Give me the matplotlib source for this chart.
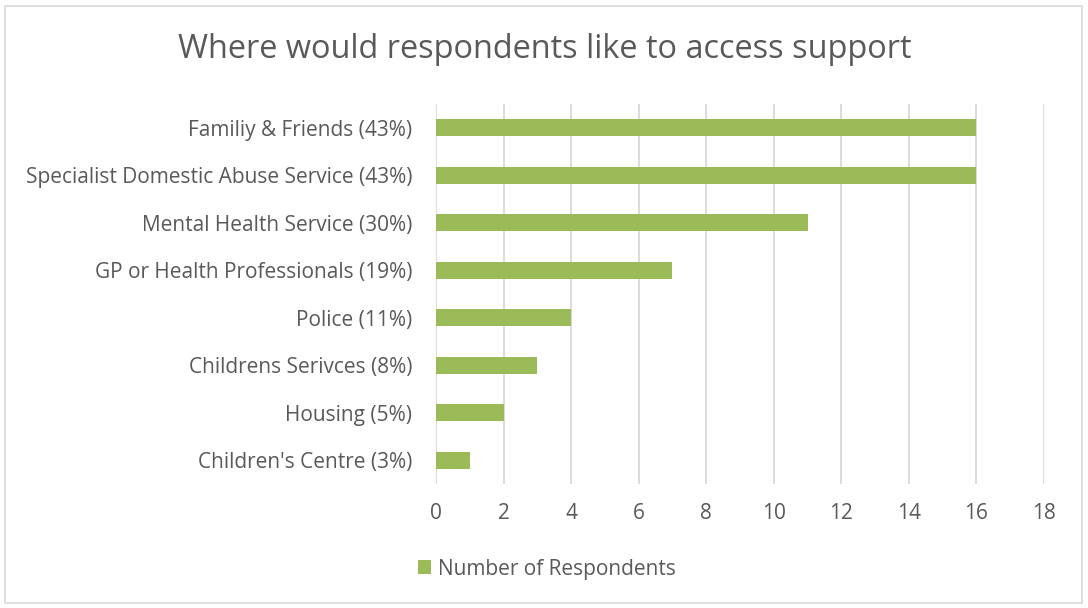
import matplotlib.pyplot as plt
from matplotlib.patches import Rectangle

categories = [
    "Familiy & Friends (43%)",
    "Specialist Domestic Abuse Service (43%)",
    "Mental Health Service (30%)",
    "GP or Health Professionals (19%)",
    "Police (11%)",
    "Childrens Serivces (8%)",
    "Housing (5%)",
    "Children's Centre (3%)",
]
respondents = [16, 16, 11, 7, 4, 3, 2, 1]
x_ticks = [0, 2, 4, 6, 8, 10, 12, 14, 16, 18]
series_name = "Number of Respondents"
title = "Where would respondents like to access support"

bar_color = "#9BBB59"
text_color = "#595959"
grid_color = "#D9D9D9"

plt.rcParams["font.family"] = ["Open Sans", "DejaVu Sans"]

W, H = 1088, 608
fig = plt.figure(figsize=(W / 100, H / 100), dpi=100)

# plot area in pixel coordinates
left, right, top, bottom = 436, 1044, 104, 484
ax = fig.add_axes([left / W, 1 - bottom / H, (right - left) / W, (bottom - top) / H])

ypos = list(range(len(categories)))
ax.barh(ypos, respondents, height=0.36, color=bar_color, label=series_name, zorder=3)
ax.set_ylim(len(categories) - 0.5, -0.5)
ax.set_xlim(0, 18)
ax.set_xticks(x_ticks)
ax.set_xticklabels([str(t) for t in x_ticks], fontsize=15, color=text_color)
ax.set_yticks(ypos)
ax.set_yticklabels(categories, fontsize=15, color=text_color)
ax.tick_params(axis="both", length=0)
ax.tick_params(axis="y", pad=17)
ax.tick_params(axis="x", pad=14)
ax.grid(axis="x", color=grid_color, linewidth=1.3, zorder=0)
for s in ax.spines.values():
    s.set_visible(False)

fig.text(545 / W, 1 - 49 / H, title, ha="center", va="center",
         fontsize=23.4, color=text_color)

leg = fig.legend(loc="center", bbox_to_anchor=(547 / W, 1 - 569 / H),
                 frameon=False, fontsize=15, handlelength=0.65, handleheight=0.65,
                 handletextpad=0.35)
for t in leg.get_texts():
    t.set_color(text_color)

fig.patches.append(Rectangle((5 / W, 5 / H), (W - 11) / W, (H - 11) / H,
                             transform=fig.transFigure, fill=False,
                             edgecolor="#D9D9D9", linewidth=1.2))

fig.savefig("out.png", dpi=100, facecolor="white")
